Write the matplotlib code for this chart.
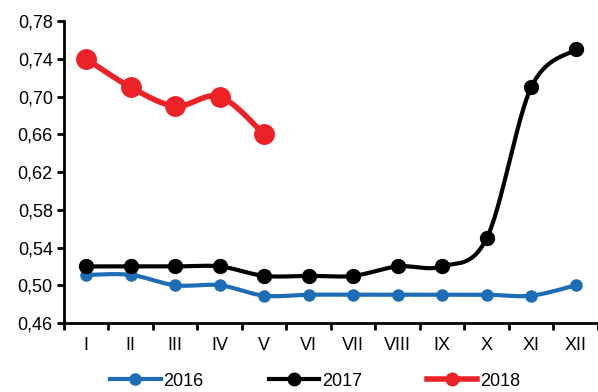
import numpy as np
import matplotlib
matplotlib.use("Agg")
import matplotlib.pyplot as plt
from matplotlib.lines import Line2D

plt.rcParams['font.family'] = ['Liberation Sans', 'DejaVu Sans']

months = ["I", "II", "III", "IV", "V", "VI", "VII", "VIII", "IX", "X", "XI", "XII"]
y2016 = [0.511, 0.511, 0.500, 0.500, 0.489, 0.490, 0.490, 0.490, 0.490, 0.490, 0.489, 0.500]
y2017 = [0.52, 0.52, 0.52, 0.52, 0.51, 0.51, 0.51, 0.52, 0.52, 0.55, 0.71, 0.75]
y2018 = [0.74, 0.71, 0.69, 0.70, 0.66]


def smooth(x, y, n=30):
    # Excel-like smoothed line (Catmull-Rom through the points)
    x = np.asarray(x, float)
    y = np.asarray(y, float)
    px = np.concatenate([[x[0]], x, [x[-1]]])
    py = np.concatenate([[y[0]], y, [y[-1]]])
    xs, ys = [], []
    for i in range(1, len(px) - 2):
        t = np.linspace(0, 1, n)
        p0, p1, p2, p3 = [np.array([px[j], py[j]]) for j in range(i - 1, i + 3)]
        b1 = p1 + (p2 - p0) / 6
        b2 = p2 - (p3 - p1) / 6
        pts = ((1 - t) ** 3)[:, None] * p1 + (3 * (1 - t) ** 2 * t)[:, None] * b1 \
            + (3 * (1 - t) * t ** 2)[:, None] * b2 + (t ** 3)[:, None] * p2
        xs.extend(pts[:, 0])
        ys.extend(pts[:, 1])
    return xs, ys


fig = plt.figure(figsize=(5.98, 3.92), dpi=100)
ax = fig.add_axes([0.107, 0.176, 0.893, 0.770])

series = [
    ("2016", y2016, "#1c6db5", 3, 8, 8),
    ("2017", y2017, "black", 3, 10, 9),
    ("2018", y2018, "#ec2227", 4, 14, 9),
]
handles = []
for name, vals, col, lw, ms, lms in series:
    xi = np.arange(len(vals))
    sx, sy = smooth(xi, vals)
    ax.plot(sx, sy, color=col, lw=lw, solid_capstyle='round', zorder=2)
    ax.plot(xi, vals, 'o', color=col, ms=ms, zorder=3)
    handles.append(Line2D([], [], color=col, lw=lw, marker='o', ms=lms))

ax.set_xlim(-0.5, 11.5)
ax.set_ylim(0.46, 0.78)
ax.set_yticks(np.arange(0.46, 0.781, 0.04))
ax.set_yticklabels([f"{v:.2f}".replace(".", ",") for v in np.arange(0.46, 0.781, 0.04)])
ax.set_xticks(np.arange(12))
ax.set_xticklabels(months)
ax.set_xticks(np.arange(-0.5, 12, 1), minor=True)
ax.tick_params(axis='x', which='major', length=0, pad=10, labelsize=13)
ax.tick_params(axis='x', which='minor', length=5, width=2)
ax.tick_params(axis='y', length=5, width=2, labelsize=13, pad=3)

for s in ['top', 'right']:
    ax.spines[s].set_visible(False)
for s in ['left', 'bottom']:
    ax.spines[s].set_linewidth(2)

fig.legend(handles, ["2016", "2017", "2018"], loc='center',
           bbox_to_anchor=(0.527, 0.028), ncol=3, frameon=False, fontsize=13,
           handlelength=2.8, handletextpad=0.15, columnspacing=3.6,
           borderpad=0)

fig.savefig("out.png", dpi=100)
